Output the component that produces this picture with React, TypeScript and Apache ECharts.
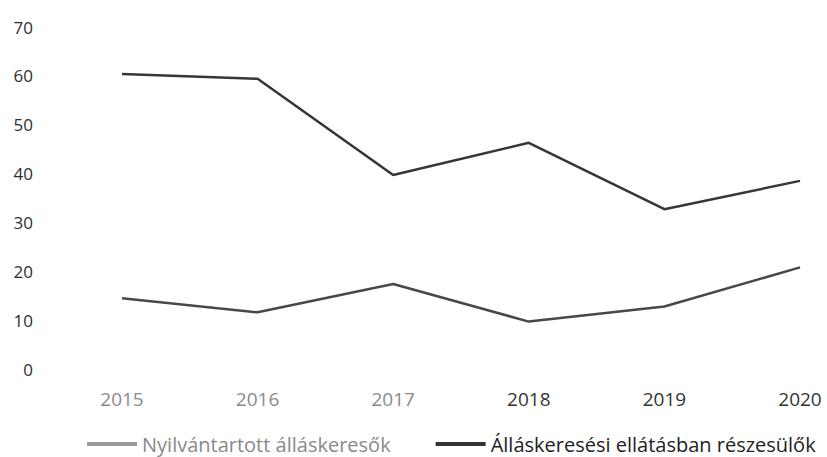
import React, { useEffect, useRef } from "react";
import * as echarts from "echarts";

const years = ["2015", "2016", "2017", "2018", "2019", "2020"];
const registered = [14.5, 11.6, 17.4, 9.7, 12.8, 20.8];
const benefit = [60.4, 59.4, 39.7, 46.3, 32.7, 38.5];
const seriesNames = ["Nyilvántartott álláskeresők", "Álláskeresési ellátásban részesülők"];
const FONT = "Open Sans";

export default function App() {
  const ref = useRef<HTMLDivElement>(null);
  useEffect(() => {
    if (!ref.current) return;
    const chart = echarts.init(ref.current, null, { renderer: "svg" });
    chart.setOption({
      animation: false,
      backgroundColor: "#ffffff",
      grid: { left: 122, right: 27, top: 27, bottom: 88, containLabel: false },
      xAxis: {
        type: "category",
        data: years,
        boundaryGap: false,
        axisLine: { show: false },
        axisTick: { show: false },
        axisLabel: {
          margin: 20,
          fontFamily: FONT,
          fontSize: 19,
          color: (_v: any, i: number) => (i < 3 ? "#8a8a8a" : "#333333"),
        },
      },
      yAxis: {
        type: "value",
        min: 0,
        max: 70,
        interval: 10,
        axisLine: { show: false },
        axisTick: { show: false },
        splitLine: { show: false },
        axisLabel: { margin: 89, fontFamily: FONT, fontSize: 17, color: "#2e2e2e" },
      },
      legend: {
        left: 87,
        top: 434,
        padding: 0,
        icon: "rect",
        itemWidth: 50,
        itemHeight: 4,
        itemGap: 45,
        textStyle: { fontFamily: FONT, fontSize: 20, lineHeight: 20 },
        data: [
          { name: seriesNames[0], itemStyle: { color: "#9a9a9a" }, textStyle: { color: "#8a8a8a" } },
          { name: seriesNames[1], itemStyle: { color: "#333333" }, textStyle: { color: "#222222" } },
        ],
      },
      series: [
        {
          name: seriesNames[0],
          type: "line",
          data: registered,
          showSymbol: false,
          symbol: "none",
          lineStyle: { color: "#484848", width: 2.5 },
          itemStyle: { color: "#484848" },
        },
        {
          name: seriesNames[1],
          type: "line",
          data: benefit,
          showSymbol: false,
          symbol: "none",
          lineStyle: { color: "#363636", width: 2.5 },
          itemStyle: { color: "#363636" },
        },
      ],
    });
    return () => chart.dispose();
  }, []);
  return (
    <div
      ref={ref}
      style={{ position: "fixed", left: 0, top: 0, width: 827, height: 457, background: "#fff" }}
    />
  );
}
